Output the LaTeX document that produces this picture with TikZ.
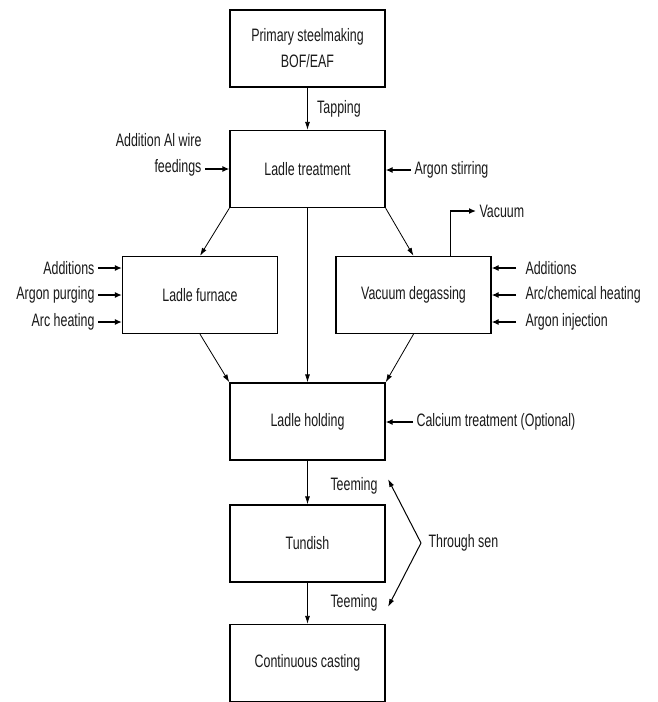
\documentclass[tikz,border=0pt]{standalone}
\usepackage{fontspec}
\setmainfont{Liberation Sans}[FakeStretch=0.69]
\usetikzlibrary{arrows.meta,positioning}
\tikzset{
  stage/.style={draw,line width=1.3pt,minimum width=155pt,minimum height=77pt,align=center,inner sep=0pt},
  flow/.style={line width=0.8pt,-{Latex[length=8pt,width=5pt]}},
  feed/.style={line width=1.3pt,-{Latex[length=7pt,width=6pt]}},
}
\begin{document}
\begin{tikzpicture}[x=1pt,y=-1pt,font=\fontsize{18}{26}\selectfont,text=black!90]
	\useasboundingbox (0,0) rectangle (657,702);
	% main line
	\node[stage] (prim) at (307.5,48.5) {Primary steelmaking\\BOF/EAF};
	\node[stage] (treat) at (307.5,169) {Ladle treatment};
	\node[stage] (furn) at (200,295) {Ladle furnace};
	\node[stage] (degas) at (413.5,295) {Vacuum degassing};
	\node[stage] (hold) at (307.5,421.5) {Ladle holding};
	\node[stage] (tund) at (307.5,543.5) {Tundish};
	\node[stage] (cast) at (307.5,663) {Continuous casting};
	\draw[flow] (prim) -- (treat) node[pos=.5,right=6pt]{Tapping};
	\draw[flow] (treat.south west) -- (furn.north);
	\draw[flow] (treat.south east) -- (degas.north);
	\draw[flow] (treat) -- (hold);
	\draw[flow] (furn.south) -- (hold.north west);
	\draw[flow] (degas.south) -- (hold.north east);
	\draw[flow] (hold) -- (tund);
	\draw[flow] (tund) -- (cast);
	% additions
	\node[anchor=east,align=right] (alw) at (205,155) {Addition Al wire\\feedings};
	\draw[feed] (alw.east |- treat.west) -- (treat.west);
	\node[anchor=west] (stir) at (411,170) {Argon stirring};
	\draw[feed] (stir.west) -- (stir.west -| treat.east);
	\node[anchor=east] (addL) at (98,268) {Additions};
	\node[anchor=east] (purg) at (98,295) {Argon purging};
	\node[anchor=east] (arcL) at (98,322) {Arc heating};
	\foreach \n in {addL,purg,arcL}
		\draw[feed] (\n.east) -- (\n.east -| furn.west);
	\node[anchor=west] (addR) at (522,268) {Additions};
	\node[anchor=west] (arcR) at (522,295) {Arc/chemical heating};
	\node[anchor=west] (injR) at (522,322) {Argon injection};
	\foreach \n in {addR,arcR,injR}
		\draw[feed] ([xshift=-6pt]\n.west) -- (\n.west -| degas.east);
	\node[anchor=west] (vac) at (476,211) {Vacuum};
	\draw[feed] ([xshift=37pt]degas.north) |- (vac.west);
	\node[anchor=west] (calc) at (413,422) {Calcium treatment (Optional)};
	\draw[feed] (calc.west) -- (calc.west -| hold.east);
	% teeming
	\node[anchor=east] (teemA) at (381,486) {Teeming};
	\node[anchor=east] (teemB) at (381,603) {Teeming};
	\node[anchor=west] (sen) at (425,543) {Through sen};
	\coordinate (apex) at (421,543);
	\coordinate (tipA) at (388,479);
	\coordinate (tipB) at (388,607);
	\draw[flow,line width=1pt] (apex) -- (tipA);
	\draw[flow,line width=1pt] (apex) -- (tipB);
\end{tikzpicture}
\end{document}
